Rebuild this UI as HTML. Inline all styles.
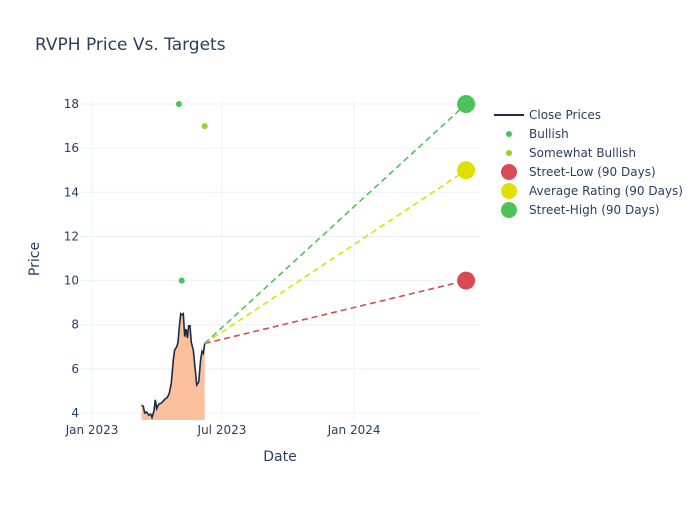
<!DOCTYPE html>
<html><head><meta charset="utf-8"><style>
body{margin:0;background:#fff;}
svg text{font-family:"DejaVu Sans","Liberation Sans",sans-serif;fill:#2a3f5f;}
</style></head><body>
<svg id="chart" width="700" height="500" xmlns="http://www.w3.org/2000/svg">
<rect width="700" height="500" fill="#fff"/>
<text x="35" y="50" font-size="17">RVPH Price Vs. Targets</text>
<g id="grid"></g>
<g id="plot"></g>
<g id="axes"></g>
<g id="legend"></g>
</svg>
<script>
// days since 2023-01-01
const closeDays=[69,71.5,73.4,76.1,78.9,81.7,83.6,86.4,88.2,90.1,92.9,96.6,99.3,102.1,104.9,107.7,110.5,113.3,115.1,117.9,119.8,121.6,123.5,125.3,127.2,129.1,130.9,132.8,134.6,136.5,138.3,141.1,143.9,145.8,148.6,151.3,153.2,155.1,156.9];
const closeVals=[4.36,4.3,4.0,4.05,3.9,3.95,3.8,4.1,4.6,4.2,4.4,4.45,4.55,4.65,4.7,4.9,5.36,6.4,6.85,7.0,7.2,7.9,8.5,8.45,8.5,7.46,7.8,7.4,7.95,7.95,7.2,6.85,5.95,5.27,5.4,6.4,6.8,6.7,7.15];
const bullishDays=[121,125];
const bullishVals=[18,10];
const swBullishDays=[157];
const swBullishVals=[17];
const targetDay=521;
const targetNames=["Street-Low (90 Days)","Average Rating (90 Days)","Street-High (90 Days)"];
const targetVals=[10,15,18];
const targetColors=["#d84b55","#e0e000","#4cc35a"];
const yTicks=[4,6,8,10,12,14,16,18];
const xTickDays=[0,181,365];
const xTickLabels=["Jan 2023","Jul 2023","Jan 2024"];

const NS="http://www.w3.org/2000/svg";
const X=d=>92+d*0.718;
const Y=v=>413-(v-4)*22.07;
function mk(tag,attrs,parent){const e=document.createElementNS(NS,tag);for(const k in attrs)e.setAttribute(k,attrs[k]);parent.appendChild(e);return e;}
const grid=document.getElementById('grid'),plot=document.getElementById('plot'),axes=document.getElementById('axes'),leg=document.getElementById('legend');
const L=80,R=480,T=100,B=420;
yTicks.forEach(v=>{
 const l=mk('line',{x1:L,x2:R,y1:Y(v),y2:Y(v),stroke:'#ebf0f8','stroke-width':1},grid);
 
 
 const t=mk('text',{x:L-1,y:Y(v)+4,'text-anchor':'end','font-size':12},axes);t.textContent=v;
 
 
});
xTickDays.forEach((d,i)=>{
 const l=mk('line',{x1:X(d),x2:X(d),y1:T,y2:B,stroke:'#ebf0f8','stroke-width':1},grid);
 
 
 const t=mk('text',{x:X(d),y:434,'text-anchor':'middle','font-size':12},axes);t.textContent=xTickLabels[i];
 
 
});
const xt=mk('text',{x:280,y:461,'text-anchor':'middle','font-size':14},axes);xt.textContent='Date';


const yt=mk('text',{x:39,y:259,'text-anchor':'middle','font-size':14,transform:'rotate(-90 39 259)'},axes);yt.textContent='Price';



let pts=closeDays.map((d,i)=>X(d).toFixed(1)+','+Y(closeVals[i]).toFixed(1));
const area=mk('polygon',{points:X(closeDays[0])+','+B+' '+pts.join(' ')+' '+X(closeDays[closeDays.length-1])+','+B,fill:'#fcbf9b'},plot);


const line=mk('polyline',{points:pts.join(' '),fill:'none',stroke:'#1f2a44','stroke-width':1.6},plot);


const lastD=closeDays[closeDays.length-1],lastV=closeVals[closeVals.length-1];
targetVals.forEach((v,i)=>{
 const l=mk('line',{x1:X(lastD),y1:Y(lastV),x2:X(targetDay),y2:Y(v),stroke:targetColors[i],'stroke-width':1.6,'stroke-dasharray':'6,4'},plot);
 
 
});
bullishDays.forEach((d,i)=>{
 const c=mk('circle',{cx:X(d),cy:Y(bullishVals[i]),r:3,fill:'#4cc35a'},plot);
 
 
});
swBullishDays.forEach((d,i)=>{
 const c=mk('circle',{cx:X(d),cy:Y(swBullishVals[i]),r:3,fill:'#9acd32'},plot);
 
 
});
targetVals.forEach((v,i)=>{
 const c=mk('circle',{cx:X(targetDay),cy:Y(v),r:9,fill:targetColors[i]},plot);
 
 
});
const items=[["line","#1f2a44","Close Prices"],["dot","#4cc35a","Bullish"],["dot","#9acd32","Somewhat Bullish"],["big",targetColors[0],targetNames[0]],["big",targetColors[1],targetNames[1]],["big",targetColors[2],targetNames[2]]];
items.forEach((it,i)=>{
 const y=115+i*19;
 const g=mk('g',{},leg);
 
 
 if(it[0]==='line')mk('line',{x1:494,x2:524,y1:y,y2:y,stroke:it[1],'stroke-width':2},g);
 else mk('circle',{cx:509,cy:y,r:it[0]==='dot'?3:8,fill:it[1]},g);
 const t=mk('text',{x:529,y:y+4,'font-size':12},g);t.textContent=it[2];
});
</script>
</body></html>
